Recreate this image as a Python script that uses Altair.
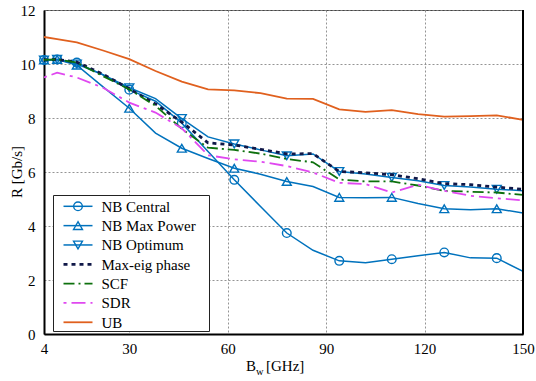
import altair as alt
import pandas as pd

# ---------------- data ----------------
bw = [4, 8, 14, 22, 30, 38, 46, 54, 62, 70, 78, 86, 94, 102, 110, 118, 126, 134, 142, 150]
marker_bw = [4, 8, 14, 30, 46, 62, 78, 94, 110, 126, 142]

nb_central = [10.15, 10.17, 10.05, 9.60, 9.05, 8.62, 7.81, 6.76, 5.71, 4.72, 3.74, 3.10, 2.71, 2.64, 2.77, 2.90, 3.02, 2.82, 2.81, 2.32]
nb_maxpower = [10.15, 10.17, 9.96, 9.15, 8.36, 7.44, 6.88, 6.50, 6.14, 5.92, 5.65, 5.46, 5.06, 5.05, 5.06, 4.83, 4.64, 4.60, 4.64, 4.48]
nb_optimum = [10.15, 10.17, 10.00, 9.60, 9.12, 8.72, 7.98, 7.30, 7.04, 6.82, 6.60, 6.67, 6.02, 5.93, 5.80, 5.68, 5.50, 5.44, 5.36, 5.31]
max_eig = [10.15, 10.17, 10.07, 9.62, 9.08, 8.52, 7.85, 7.08, 7.00, 6.84, 6.67, 6.68, 6.02, 5.97, 5.90, 5.75, 5.57, 5.53, 5.44, 5.36]
scf = [10.15, 10.17, 10.05, 9.55, 9.06, 8.45, 7.60, 6.90, 6.82, 6.68, 6.48, 6.36, 5.72, 5.65, 5.65, 5.50, 5.30, 5.27, 5.24, 5.15]
sdr = [9.50, 9.68, 9.50, 9.12, 8.57, 8.20, 7.62, 6.62, 6.47, 6.38, 6.22, 5.98, 5.60, 5.55, 5.24, 5.53, 5.30, 5.12, 5.03, 4.95]
ub = [11.00, 10.92, 10.80, 10.50, 10.18, 9.74, 9.35, 9.06, 9.02, 8.92, 8.72, 8.71, 8.32, 8.23, 8.29, 8.14, 8.05, 8.07, 8.10, 7.93]

x_ticks = [4, 30, 60, 90, 120, 150]
y_ticks = [0, 2, 4, 6, 8, 10, 12]

names = ["NB Central", "NB Max Power", "NB Optimum", "Max-eig phase", "SCF", "SDR", "UB"]
values = [nb_central, nb_maxpower, nb_optimum, max_eig, scf, sdr, ub]

# ---------------- styles ----------------
BLUE = "#0072BD"
styles = {
    "NB Central": dict(color=BLUE, dash=None, width=1.5, shape="circle", size=75),
    "NB Max Power": dict(color=BLUE, dash=None, width=1.5, shape="triangle-up", size=80),
    "NB Optimum": dict(color=BLUE, dash=None, width=1.5, shape="triangle-down", size=80),
    "Max-eig phase": dict(color="#101848", dash=[4, 4], width=2.8, shape=None, size=0),
    "SCF": dict(color="#0d700d", dash=[11, 4, 2, 4], width=1.8, shape=None, size=0),
    "SDR": dict(color="#e048f0", dash=[3, 5, 14, 5], width=1.8, shape=None, size=0),
    "UB": dict(color="#E0601E", dash=None, width=1.8, shape=None, size=0),
}

FONT = "Liberation Serif"
W, H = 479, 324

rows = []
for n, vals in zip(names, values):
    for b, v in zip(bw, vals):
        rows.append({"bw": b, "R": v, "series": n})
df = pd.DataFrame(rows)

x_enc = alt.X("bw:Q", scale=alt.Scale(domain=[4, 150], nice=False, zero=False),
              axis=alt.Axis(values=x_ticks, title=None, grid=True, ticks=False,
                            labelPadding=7, format="d", labelFlush=False,
                            labelFont=FONT, labelFontSize=15, labelColor="black"))
y_enc = alt.Y("R:Q", scale=alt.Scale(domain=[0, 12], nice=False),
              axis=alt.Axis(values=y_ticks, title=None, grid=True, ticks=False,
                            labelPadding=9, format="d", labelFlush=False,
                            labelFont=FONT, labelFontSize=15, labelColor="black"))

layers = []
for n in names:
    s = styles[n]
    sub = df[df.series == n]
    kw = dict(color=s["color"], strokeWidth=s["width"], clip=True)
    if s["dash"]:
        kw["strokeDash"] = s["dash"]
    layers.append(alt.Chart(sub).mark_line(**kw).encode(x=x_enc, y=y_enc))
    if s["shape"]:
        msub = sub[sub.bw.isin(marker_bw)]
        layers.append(alt.Chart(msub).mark_point(shape=s["shape"], filled=False, size=s["size"],
                                                 strokeWidth=1.4, color=s["color"], opacity=1)
                      .encode(x=x_enc, y=y_enc))

one = pd.DataFrame({"a": [0]})

# right border
layers.append(alt.Chart(one).mark_rule(color="black", strokeWidth=2)
              .encode(x=alt.value(W), y=alt.value(0), y2=alt.value(H)))

# legend box
layers.append(alt.Chart(one).mark_rect(fill="white", stroke="#222", strokeWidth=1)
              .encode(x=alt.value(9.5), x2=alt.value(165.5), y=alt.value(185.5), y2=alt.value(321.5)))
for i, n in enumerate(names):
    s = styles[n]
    yi = 196.3 + 19.33 * i
    kw = dict(color=s["color"], strokeWidth=s["width"])
    if s["dash"]:
        kw["strokeDash"] = s["dash"]
    layers.append(alt.Chart(one).mark_rule(**kw)
                  .encode(x=alt.value(19.5), x2=alt.value(48.5), y=alt.value(yi)))
    if s["shape"]:
        layers.append(alt.Chart(one).mark_point(shape=s["shape"], filled=False, size=s["size"],
                                                strokeWidth=1.4, color=s["color"], opacity=1)
                      .encode(x=alt.value(34), y=alt.value(yi)))
    layers.append(alt.Chart(one).mark_text(align="left", baseline="middle", font=FONT,
                                           fontSize=15, color="black")
                  .encode(x=alt.value(57.5), y=alt.value(yi + 0.5), text=alt.value(n)))

# axis titles
layers.append(alt.Chart(one).mark_text(align="center", baseline="middle", font=FONT,
                                       fontSize=15, angle=270, color="black")
              .encode(x=alt.value(-27), y=alt.value(H / 2), text=alt.value("R [Gb/s]")))
layers.append(alt.Chart(one).mark_text(align="left", baseline="alphabetic", font=FONT,
                                       fontSize=15, color="black")
              .encode(x=alt.value(202), y=alt.value(361), text=alt.value("B")))
layers.append(alt.Chart(one).mark_text(align="left", baseline="alphabetic", font=FONT,
                                       fontSize=10.5, color="black")
              .encode(x=alt.value(212), y=alt.value(365), text=alt.value("w")))
layers.append(alt.Chart(one).mark_text(align="left", baseline="alphabetic", font=FONT,
                                       fontSize=15, color="black")
              .encode(x=alt.value(222), y=alt.value(361), text=alt.value("[GHz]")))

chart = alt.layer(*layers).properties(
    width=W, height=H,
    autosize=alt.AutoSizeParams(type="none"),
    padding={"left": 44, "top": 10, "right": 13, "bottom": 47},
    background="white",
).configure_view(
    stroke="#444", strokeWidth=1
).configure_axis(
    labelFont=FONT, labelFontSize=15, labelColor="black",
    domainColor="black", domainWidth=2,
    gridColor="#888", gridDash=[2, 2], gridWidth=0.9, gridOpacity=1,
)

chart.save("out.html", embed_options={"renderer": "svg", "actions": False})
